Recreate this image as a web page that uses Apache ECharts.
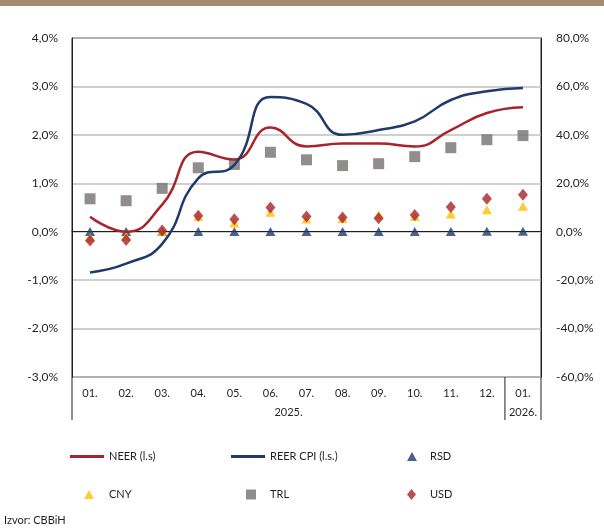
<!DOCTYPE html>
<html>
<head>
<meta charset="utf-8">
<script src="https://cdn.jsdelivr.net/npm/echarts@6/dist/echarts.min.js"></script>
<style>
  html, body { margin: 0; padding: 0; background: #fff; }
  #main { width: 604px; height: 528px; }
</style>
</head>
<body>
<div id="main"></div>
<script>
// mjeseci i godine
var months = ['01.', '02.', '03.', '04.', '05.', '06.', '07.', '08.', '09.', '10.', '11.', '12.', '01.'];
var years = ['2025.', '2026.'];
var yearSpan = [12, 1]; // broj mjeseci po godini

// lijeva skala (%)
var neer = [0.31, 0.0, 0.56, 1.65, 1.49, 2.15, 1.76, 1.82, 1.82, 1.76, 2.1, 2.45, 2.57];
var reerCpi = [-0.84, -0.66, -0.25, 1.1, 1.38, 2.78, 2.64, 2.0, 2.1, 2.28, 2.72, 2.9, 2.97];

// desna skala (%)
var rsd = [0.1, 0.1, 0.1, 0.1, 0.1, 0.1, 0.1, 0.1, 0.1, 0.1, 0.1, 0.2, 0.2];
var cny = [-2.5, -1.9, 0.1, 6.3, 3.6, 8.0, 5.2, 5.5, 7.0, 6.3, 7.3, 9.1, 10.5];
var trl = [13.6, 12.8, 17.9, 26.4, 27.8, 32.8, 29.7, 27.3, 28.1, 31.0, 34.7, 38.0, 39.7];
var usd = [-3.6, -3.4, 0.5, 6.6, 5.1, 10.0, 6.3, 5.9, 5.6, 6.9, 10.2, 13.6, 15.3];

var FONT = 'Lato';
var TXT = '#231f20';

function pct(v) {
  return v.toFixed(1).replace('.', ',') + '%';
}

var chart = echarts.init(document.getElementById('main'));

// legende - svaka stavka posebno
function legendItem(name, left, top, w, h, icon, gap) {
  return {
    data: [name],
    left: left,
    top: top,
    padding: 0,
    icon: icon,
    itemWidth: w,
    itemHeight: h,
    itemGap: 0,
    selectedMode: false,
    textStyle: { fontFamily: FONT, fontSize: 11, color: TXT, padding: [0, 0, 0, gap] }
  };
}

var option = {
  animation: false,
  textStyle: { fontFamily: FONT },
  grid: {
    left: 72, right: 63, top: 38, bottom: 151,
    show: true, borderColor: '#231f20', borderWidth: 1
  },
  legend: [
    legendItem('NEER (l.s)', 70, 451, 34, 3, 'rect', 0),
    legendItem('REER CPI (l.s.)', 231, 451, 34, 3, 'rect', 0),
    legendItem('RSD', 407, 451, 10, 9, 'triangle', 8),
    legendItem('CNY', 84, 489, 10, 9, 'triangle', 10),
    legendItem('TRL', 246, 489, 10, 10, 'rect', 9),
    legendItem('USD', 407, 489, 9, 11, 'diamond', 9)
  ],
  xAxis: {
    type: 'category',
    data: months,
    boundaryGap: true,
    axisLine: { lineStyle: { color: '#231f20', width: 1 } },
    axisTick: { show: false },
    axisLabel: { color: TXT, fontSize: 11, fontFamily: FONT, margin: 11 },
    splitLine: { show: false }
  },
  yAxis: [{
    type: 'value',
    min: -3, max: 4, interval: 1,
    axisLine: { show: true, lineStyle: { color: '#231f20' } },
    axisTick: { show: false },
    axisLabel: { color: TXT, fontSize: 12, fontFamily: FONT, margin: 14, formatter: pct },
    splitLine: { lineStyle: { color: '#bfbfbf', width: 1.5 } }
  }, {
    type: 'value',
    min: -60, max: 80, interval: 20,
    axisLine: { show: true, lineStyle: { color: '#231f20' } },
    axisTick: { show: false },
    axisLabel: { color: TXT, fontSize: 12, fontFamily: FONT, margin: 15, formatter: pct },
    splitLine: { show: false }
  }],
  series: [{
    name: 'NEER (l.s)', type: 'line', data: neer, yAxisIndex: 0,
    smooth: 0.5, symbol: 'none',
    lineStyle: { color: '#a8232b', width: 2.5 }, itemStyle: { color: '#a8232b' }
  }, {
    name: 'REER CPI (l.s.)', type: 'line', data: reerCpi, yAxisIndex: 0,
    smooth: 0.5, symbol: 'none',
    lineStyle: { color: '#1f3a6b', width: 2.5 }, itemStyle: { color: '#1f3a6b' }
  }, {
    name: 'RSD', type: 'scatter', data: rsd, yAxisIndex: 1,
    symbol: 'triangle', symbolSize: [10, 9], itemStyle: { color: '#1f3a6b' }
  }, {
    name: 'CNY', type: 'scatter', data: cny, yAxisIndex: 1,
    symbol: 'triangle', symbolSize: [10, 9], itemStyle: { color: '#ffc000' }
  }, {
    name: 'TRL', type: 'scatter', data: trl, yAxisIndex: 1,
    symbol: 'rect', symbolSize: 11, itemStyle: { color: '#767171' }
  }, {
    name: 'USD', type: 'scatter', data: usd, yAxisIndex: 1,
    symbol: 'diamond', symbolSize: [10, 12], itemStyle: { color: '#a8232b' }
  }]
};

chart.setOption(option);

// razdjelnici godina ispod ose i natpisi godina
var y0 = chart.convertToPixel({ yAxisIndex: 0 }, -3);
var c0 = chart.convertToPixel({ xAxisIndex: 0 }, 0);
var c1 = chart.convertToPixel({ xAxisIndex: 0 }, 1);
var step = c1 - c0;
var graphics = [{
  type: 'rect', left: 0, top: 0, shape: { x: 0, y: 0, width: 604, height: 6 },
  style: { fill: '#a58b6f' }
}, {
  type: 'text', left: 4, top: 515,
  style: { text: 'Izvor: CBBiH', fontFamily: FONT, fontSize: 11, fill: TXT }
}];
var start = 0;
var xStart = c0 - step / 2;
graphics.push({ type: 'line', shape: { x1: xStart, y1: y0, x2: xStart, y2: y0 + 43 }, style: { stroke: '#231f20', lineWidth: 1 } });
for (var i = 0; i < years.length; i++) {
  var xa = c0 - step / 2 + start * step;
  var xb = xa + yearSpan[i] * step;
  graphics.push({ type: 'line', shape: { x1: xb, y1: y0, x2: xb, y2: y0 + 43 }, style: { stroke: '#231f20', lineWidth: 1 } });
  graphics.push({
    type: 'text', x: (xa + xb) / 2, y: y0 + 35,
    style: { text: years[i], fontFamily: FONT, fontSize: 11, fill: TXT, align: 'center', verticalAlign: 'middle' }
  });
  start += yearSpan[i];
}
chart.setOption({ graphic: graphics });
</script>
</body>
</html>
